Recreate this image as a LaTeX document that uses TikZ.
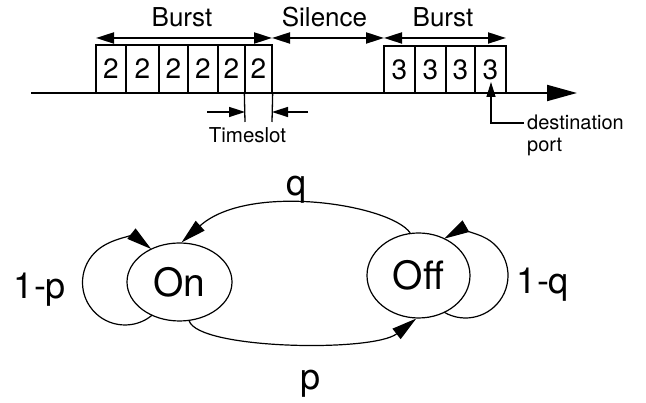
\documentclass[tikz,border=0pt]{standalone}
\usepackage{fontspec}
\setmainfont{TeX Gyre Heros}
\usetikzlibrary{arrows.meta,shapes.geometric}
\begin{document}
\begin{tikzpicture}[x=1pt,y=1pt,
  slot/.style={draw, line width=1.3pt, inner sep=0pt, minimum height=48pt, font=\fontsize{28}{32}\selectfont},
  slotb/.style={draw, line width=1.3pt, inner sep=0pt, minimum height=47pt, font=\fontsize{28}{32}\selectfont},
  toplbl/.style={inner sep=0pt, font=\fontsize{26}{30}\selectfont},
  smalllbl/.style={inner sep=0pt, font=\fontsize{20.5}{24}\selectfont},
  span/.style={line width=2pt, {Triangle[length=18pt,width=11pt]}-{Triangle[length=18pt,width=11pt]}},
  small arrow/.style={line width=1.5pt, -{Triangle[length=16pt,width=10pt]}},
  state/.style={draw, ellipse, line width=1.2pt, inner sep=0pt, font=\fontsize{39}{44}\selectfont},
  edge/.style={line width=1.2pt, -{Triangle[length=25pt,width=13pt]}},
  prob/.style={inner sep=0pt, font=\fontsize{36}{40}\selectfont}]
\useasboundingbox (0,0) rectangle (646,403);

% timeline
\coordinate (tl0) at (31,310);
\coordinate (tl1) at (577,310);
\draw[line width=2pt, -{Triangle[length=30pt,width=16pt]}] (tl0) -- (tl1);

% burst 1 slots
\node[slot, minimum width=30pt] (a1) at (111,334) {2};
\node[slot, minimum width=33pt] (a2) at (142.5,334) {2};
\node[slot, minimum width=29pt] (a3) at (173.5,334) {2};
\node[slot, minimum width=30pt] (a4) at (203,334) {2};
\node[slot, minimum width=27pt] (a5) at (231.5,334) {2};
\node[slot, minimum width=27pt] (a6) at (258.5,334) {2};

% burst 2 slots
\node[slotb, minimum width=31pt] (c1) at (399.5,333.5) {3};
\node[slotb, minimum width=31pt] (c2) at (430.5,333.5) {3};
\node[slotb, minimum width=29pt] (c3) at (460.5,333.5) {3};
\node[slotb, minimum width=31pt] (c4) at (490.5,333.5) {3};

% spans
\coordinate (m0) at (96,365);
\coordinate (m1) at (272,365);
\coordinate (m2) at (384,365);
\coordinate (m3) at (506,365);
\draw[span] (m0) -- (m1);
\draw[span] (m1) -- (m2);
\draw[span] (m2) -- (m3);
\node[toplbl] (burst1) at (182,386) {Burst};
\node[toplbl] (silence) at (324.5,386) {Silence};
\node[toplbl] (burst2) at (443,386) {Burst};

% timeslot
\coordinate (ts1) at (245,281);
\coordinate (ts2) at (272,281);
\draw[line width=1.3pt] (a6.south west) -- (ts1);
\draw[line width=1.3pt] (a6.south east) -- (ts2);
\coordinate (ta1) at (207,291);
\coordinate (ta2) at (308,291);
\draw[small arrow] (ta1) -- (ta1 -| ts1);
\draw[small arrow] (ta2) -- (ta2 -| ts2);
\node[smalllbl] (tslot) at (247.5,267.5) {Timeslot};

% destination port
\node[smalllbl, anchor=base west, font=\fontsize{20}{24}\selectfont] (dest) at (527,273) {destination};
\node[smalllbl, anchor=base west, font=\fontsize{20}{24}\selectfont] (port) at (527,251) {port};
\coordinate (dtip) at (491,321);
\draw[line width=1.3pt, -{Triangle[length=15pt,width=9pt]}] ([xshift=-3pt]dest.west) -| (dtip);

% state machine
\node[state, minimum width=105pt, minimum height=78pt] (On) at (179.5,121) {On};
\node[state, minimum width=103pt, minimum height=85pt] (Off) at (418.5,127.5) {Off};

% self loops (circle centres)
\coordinate (onloop) at (125,120.5);
\coordinate (offloop) at (465.5,127.5);
\draw[edge] (onloop) ++(-50:42.5pt) arc[start angle=-50, end angle=-308, radius=42.5pt];
\draw[edge] (offloop) ++(240:42.5pt) arc[start angle=240, end angle=480, radius=42.5pt];

\draw[edge] (Off.101) .. controls +(125:35pt) and +(42:90pt) .. (On.87);
\draw[edge] (On.-76) .. controls +(-72:30pt) and +(218:55pt) .. (Off.267);

\node[prob] (q) at (297,213.5) {q};
\node[prob] (p) at (311,19) {p};
\node[prob] (lp) at (40,113) {1-p};
\node[prob] (lq) at (543,118) {1-q};
\end{tikzpicture}
\end{document}
